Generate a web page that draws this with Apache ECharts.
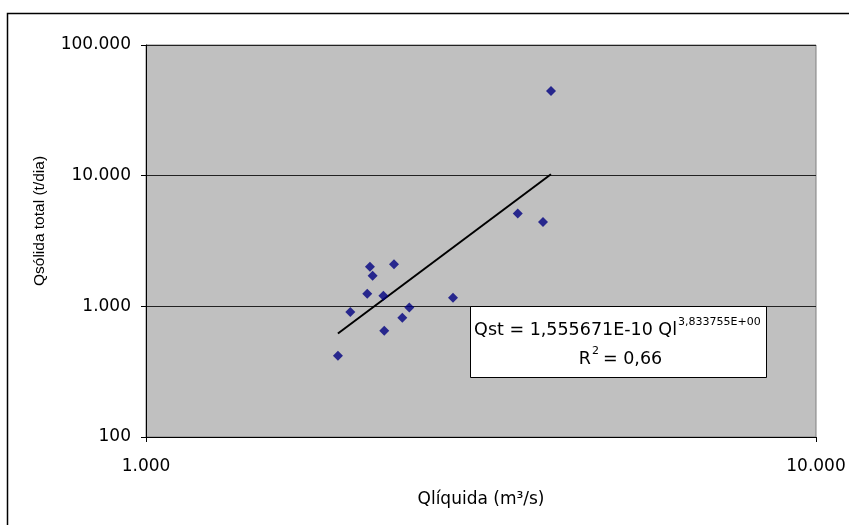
<!DOCTYPE html>
<html>
<head>
<meta charset="utf-8">
<script src="https://cdn.jsdelivr.net/npm/echarts@6/dist/echarts.min.js"></script>
<style>
  html, body { margin: 0; padding: 0; background: #fff; }
  #chart { width: 849px; height: 525px; }
</style>
</head>
<body>
<div id="chart"></div>
<script>
// Observed points (Qliquida m3/s, Qsolida t/dia)
const qLiquida = [1934, 2018, 2159, 2179, 2345, 2139, 2261, 2268, 2413, 2472, 2872, 3588, 3913, 4022];
const qSolida = [418, 903, 2005, 1711, 2102, 1246, 1203, 649, 817, 979, 1161, 5126, 4429, 44480];

// Power trendline end points
const trendX = [1934, 4022];
const trendY = [619, 10240];

// Text of the trendline label
const eqMain = 'Qst = 1,555671E-10 Ql';
const eqExp = '3,833755E+00';
const r2Value = '= 0,66';

// thousands separator with dot
const fmt = v => String(Math.round(v)).replace(/\B(?=(\d{3})+(?!\d))/g, '.');

const chart = echarts.init(document.getElementById('chart'));
const wide = 'DejaVu Sans';
const narrow = 'Liberation Sans';

const option = {
  animation: false,
  backgroundColor: '#fff',
  grid: {
    left: 146,
    top: 45,
    right: 33,
    bottom: 88,
    show: true,
    backgroundColor: '#c0c0c0',
    borderColor: '#808080',
    borderWidth: 1
  },
  xAxis: {
    type: 'log',
    logBase: 10,
    min: 1000,
    max: 10000,
    name: 'Qlíquida (m³/s)',
    nameLocation: 'middle',
    nameGap: 54,
    nameTextStyle: { color: '#000', fontSize: 17, fontFamily: wide },
    axisLine: { onZero: false, lineStyle: { color: '#000', width: 1 } },
    axisTick: { show: true, length: 5, inside: false, lineStyle: { color: '#000' } },
    axisLabel: {
      color: '#000', fontSize: 17, fontFamily: wide, margin: 21,
      formatter: fmt
    },
    splitLine: { show: false }
  },
  yAxis: {
    type: 'log',
    logBase: 10,
    min: 100,
    max: 100000,
    axisLine: { onZero: false, lineStyle: { color: '#000', width: 1 } },
    axisTick: { show: true, length: 5, inside: false, lineStyle: { color: '#000' } },
    axisLabel: {
      color: '#000', fontSize: 17, fontFamily: wide, margin: 15,
      formatter: fmt
    },
    splitLine: { show: true, lineStyle: { color: '#222', width: 1 } }
  },
  series: [
    {
      name: 'Tendência',
      type: 'line',
      symbol: 'none',
      lineStyle: { color: '#000', width: 2 },
      data: trendX.map((x, i) => [x, trendY[i]]),
      z: 2
    },
    {
      name: 'Dados',
      type: 'scatter',
      symbol: 'diamond',
      symbolSize: 10,
      itemStyle: { color: '#000080' },
      data: qLiquida.map((x, i) => [x, qSolida[i]]),
      z: 3
    }
  ],
  graphic: [
    {
      type: 'rect',
      shape: { x: 7.5, y: 13.5, width: 860, height: 540 },
      style: { fill: 'none', stroke: '#000', lineWidth: 1.5 },
      silent: true,
      z: 0
    },
    {
      type: 'text',
      x: 40,
      y: 221,
      rotation: Math.PI / 2,
      style: {
        text: 'Qsólida total (t/dia)',
        fontSize: 15.5,
        fontFamily: narrow,
        fill: '#000',
        align: 'center',
        verticalAlign: 'middle'
      },
      z: 10
    },
    {
      type: 'rect',
      shape: { x: 470.5, y: 306.5, width: 296, height: 71 },
      style: { fill: '#fff', stroke: '#000', lineWidth: 1 },
      z: 10
    },
    {
      type: 'text',
      x: 677,
      y: 330.5,
      style: {
        text: eqMain, fontSize: 17.5, fontFamily: wide, fill: '#000',
        align: 'right', verticalAlign: 'middle'
      },
      z: 11
    },
    {
      type: 'text',
      x: 678,
      y: 322.5,
      style: {
        text: eqExp, fontSize: 11, fontFamily: wide, fill: '#000',
        align: 'left', verticalAlign: 'middle'
      },
      z: 11
    },
    {
      type: 'text',
      x: 591,
      y: 359.5,
      style: {
        text: 'R', fontSize: 17.5, fontFamily: wide, fill: '#000',
        align: 'right', verticalAlign: 'middle'
      },
      z: 11
    },
    {
      type: 'text',
      x: 592,
      y: 351.5,
      style: {
        text: '2', fontSize: 11, fontFamily: wide, fill: '#000',
        align: 'left', verticalAlign: 'middle'
      },
      z: 11
    },
    {
      type: 'text',
      x: 603,
      y: 359.5,
      style: {
        text: r2Value, fontSize: 17.5, fontFamily: wide, fill: '#000',
        align: 'left', verticalAlign: 'middle'
      },
      z: 11
    }
  ]
};

chart.setOption(option);
</script>
</body>
</html>
